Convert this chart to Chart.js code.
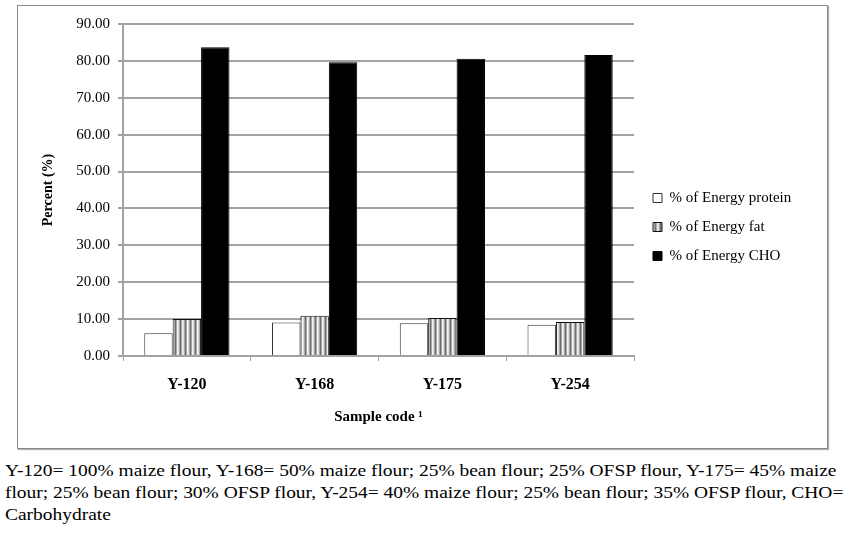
<!DOCTYPE html>
<html lang="en">
<head>
    <meta charset="UTF-8">
    <title>Percent of energy by sample code</title>
    <script src="https://cdn.jsdelivr.net/npm/chart.js"></script>
    <style>
        body { margin: 0; background: #fff; width: 843px; height: 539px; position: relative; overflow: hidden; }
        #box {
            position: absolute; left: 17px; top: 5px; width: 811px; height: 444px;
            box-sizing: border-box; border: 1px solid #8a8a8a;
            box-shadow: 1px 1px 1px #b0b0b0; background: #fff;
        }
        #box canvas { position: absolute; left: 0; top: 0; }
        #note {
            position: absolute; left: 5px; top: 460px;
            font-family: "Liberation Serif", "Times New Roman", serif;
            font-size: 16px; line-height: 22px; white-space: nowrap; color: #000;
            transform: scaleX(1.215); transform-origin: 0 0;
        }
    </style>
</head>
<body>
    <div id="box"><canvas id="chart" width="809" height="442"></canvas></div>
    <div id="note">Y-120= 100% maize flour, Y-168= 50% maize flour; 25% bean flour; 25% OFSP flour, Y-175= 45% maize<br>flour; 25% bean flour; 30% OFSP flour, Y-254= 40% maize flour; 25% bean flour; 35% OFSP flour, CHO=<br>Carbohydrate</div>

    <script>
        // Data
        const sampleCodes = ['Y-120', 'Y-168', 'Y-175', 'Y-254'];
        const energyProtein = [6.2, 9.1, 8.9, 8.5];
        const energyFat = [10.0, 10.9, 10.3, 9.2];
        const energyCHO = [83.7, 79.6, 80.6, 81.6];
        const seriesNames = ['% of Energy protein', '% of Energy fat', '% of Energy CHO'];

        const serif = '"Liberation Serif", "Times New Roman", serif';
        const gridGrey = '#a2a2a2';
        const legendWidth = 193;

        // Vertical stripe pattern for the fat bars
        function stripePattern() {
            const c = document.createElement('canvas');
            c.width = 5;
            c.height = 10;
            const g = c.getContext('2d');
            const cols = ['#dcdcdc', '#a8a8a8', '#6e6e6e', '#a8a8a8', '#f4f4f4'];
            cols.forEach((col, i) => {
                g.fillStyle = col;
                g.fillRect(i, 0, 1, 10);
            });
            return g.createPattern(c, 'repeat');
        }

        // Keep the legend column a fixed width and nudge it right a little
        const legendPlace = {
            id: 'legendPlace',
            beforeLayout(chart) {
                const lg = chart.legend;
                if (lg && !lg._fixedFit) {
                    const fit = lg.fit.bind(lg);
                    lg.fit = function () { fit(); this.width = legendWidth; };
                    lg._fixedFit = true;
                }
            },
            afterLayout(chart) {
                chart.legend.left += 5;
                chart.legend.right += 5;
            }
        };

        const ctx = document.getElementById('chart').getContext('2d');
        new Chart(ctx, {
            type: 'bar',
            data: {
                labels: sampleCodes,
                datasets: [
                    {
                        label: seriesNames[0],
                        data: energyProtein,
                        backgroundColor: '#ffffff',
                        borderColor: '#333333',
                        borderWidth: 1
                    },
                    {
                        label: seriesNames[1],
                        data: energyFat,
                        backgroundColor: stripePattern(),
                        borderColor: '#111111',
                        borderWidth: 1
                    },
                    {
                        label: seriesNames[2],
                        data: energyCHO,
                        backgroundColor: '#000000',
                        borderColor: '#000000',
                        borderWidth: 1
                    }
                ]
            },
            plugins: [legendPlace],
            options: {
                responsive: false,
                animation: false,
                layout: { padding: { left: 0, right: 0, top: 18, bottom: 18 } },
                datasets: {
                    bar: { categoryPercentage: 0.667, barPercentage: 1.0 }
                },
                plugins: {
                    legend: {
                        position: 'right',
                        align: 'center',
                        labels: {
                            boxWidth: 9,
                            boxHeight: 9,
                            padding: 14,
                            color: '#000',
                            font: { family: serif, size: 15 }
                        }
                    },
                    tooltip: { enabled: false }
                },
                scales: {
                    x: {
                        offset: true,
                        grid: {
                            offset: true,
                            drawOnChartArea: false,
                            drawTicks: true,
                            tickLength: 5,
                            color: gridGrey
                        },
                        border: { display: true, color: gridGrey, width: 2 },
                        ticks: {
                            color: '#000',
                            padding: 14,
                            font: { family: serif, size: 16, weight: 'bold' }
                        },
                        title: {
                            display: true,
                            text: 'Sample code \u00b9',
                            color: '#000',
                            padding: { top: 4, bottom: 4 },
                            font: { family: serif, size: 15, weight: 'bold' }
                        },
                        afterFit: (axis) => { axis.height = 74; }
                    },
                    y: {
                        min: 0,
                        max: 90,
                        ticks: {
                            stepSize: 10,
                            color: '#000',
                            padding: 8,
                            font: { family: serif, size: 15 },
                            callback: (v) => Number(v).toFixed(2)
                        },
                        grid: { color: gridGrey, lineWidth: 2, tickLength: 5 },
                        border: { display: true, color: gridGrey, width: 2 },
                        title: {
                            display: true,
                            text: 'Percent (%)',
                            color: '#000',
                            padding: { top: 22, bottom: 0 },
                            font: { family: serif, size: 14, weight: 'bold' }
                        },
                        afterFit: (axis) => { axis.width = 105; }
                    }
                }
            }
        });
    </script>
</body>
</html>
